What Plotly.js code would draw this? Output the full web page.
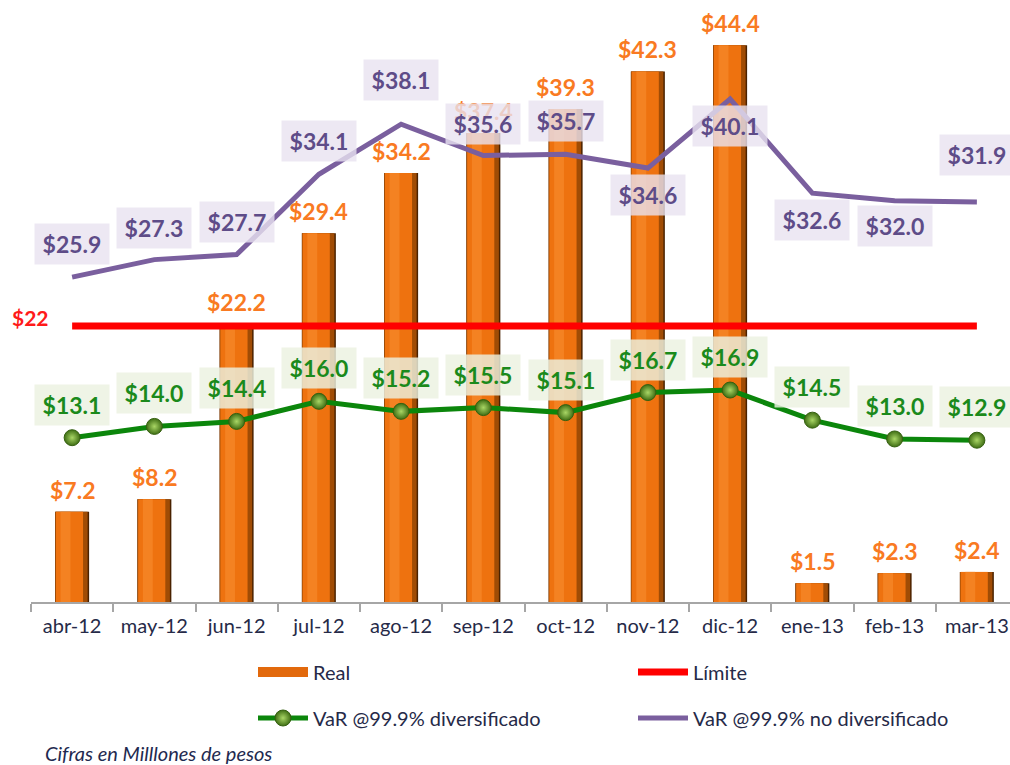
<!DOCTYPE html>
<html>
<head>
<meta charset="utf-8">
<script src="https://cdn.plot.ly/plotly-3.0.1.min.js"></script>
<style>
  html, body { margin: 0; padding: 0; overflow: hidden; background: #fff; }
  #chart { width: 1018px; height: 765px; }
</style>
</head>
<body>
<div id="chart"></div>
<script>
// ---- data ----
const months = ['abr-12','may-12','jun-12','jul-12','ago-12','sep-12','oct-12','nov-12','dic-12','ene-13','feb-13','mar-13'];
const real = [7.2, 8.2, 22.2, 29.4, 34.2, 37.4, 39.3, 42.3, 44.4, 1.5, 2.3, 2.4];
const limite = [22, 22, 22, 22, 22, 22, 22, 22, 22, 22, 22, 22];
const varDiv = [13.1, 14.0, 14.4, 16.0, 15.2, 15.5, 15.1, 16.7, 16.9, 14.5, 13.0, 12.9];
const varNoDiv = [25.9, 27.3, 27.7, 34.1, 38.1, 35.6, 35.7, 34.6, 40.1, 32.6, 32.0, 31.9];
const limiteLabel = 22;

// ---- label placement (styling, not data) ----
const purpleShift = [33, 32, 33, 33, 44, 32, 33, -27, -27, -27, -25, 47];

const fmt = v => '$' + v.toFixed(1);
const base = 'Lato, "Liberation Sans", sans-serif';

const traces = [
  { type: 'bar', x: months, y: real, width: 0.413, offset: -0.2065,
    marker: { color: '#4a2200' }, showlegend: false, hoverinfo: 'skip' },
  { type: 'bar', x: months, y: real, width: 0.395, offset: -0.2065,
    marker: { color: '#a04c05' }, showlegend: false, hoverinfo: 'skip' },
  { type: 'bar', x: months, y: real, width: 0.33, offset: -0.197,
    marker: { color: '#ee720f' }, showlegend: false, hoverinfo: 'skip' },
  { type: 'bar', x: months, y: real, width: 0.12, offset: -0.14,
    marker: { color: '#f48222' }, showlegend: false, hoverinfo: 'skip' },
  // legend swatch for the bars (no visible mark)
  { type: 'scatter', mode: 'lines', x: [null], y: [null], name: 'Real',
    line: { color: '#e2690c', width: 11 }, legend: 'legend', hoverinfo: 'skip' },
  { type: 'scatter', mode: 'lines', x: months, y: limite, name: 'Límite',
    line: { color: '#ff0000', width: 7 }, legend: 'legend2', hoverinfo: 'skip' },
  { type: 'scatter', mode: 'lines+markers', x: months, y: varDiv, name: 'VaR @99.9% diversificado',
    line: { color: '#0b860b', width: 5 },
    marker: { size: 16, color: '#3f6e14', gradient: { type: 'radial', color: '#a9d665' },
              line: { color: '#356010', width: 1 } },
    legend: 'legend3', hoverinfo: 'skip' },
  { type: 'scatter', mode: 'lines', x: months, y: varNoDiv, name: 'VaR @99.9% no diversificado',
    line: { color: '#7a5f9e', width: 5 }, legend: 'legend4', hoverinfo: 'skip' }
];

const annotations = [];
months.forEach((m, i) => {
  annotations.push({ x: m, y: real[i], xref: 'x', yref: 'y', text: fmt(real[i]),
    showarrow: false, yshift: 22, yanchor: 'middle',
    font: { family: base, size: 23, color: '#f97a22', weight: 'bold' } });
});
months.forEach((m, i) => {
  annotations.push({ x: m, y: varDiv[i], xref: 'x', yref: 'y', text: '<b>' + fmt(varDiv[i]) + '</b>',
    showarrow: false, yshift: 33, yanchor: 'middle', width: 72, height: 38,
    bgcolor: 'rgba(236,242,224,0.82)',
    font: { family: base, size: 23, color: '#1b8a1b' } });
});
months.forEach((m, i) => {
  annotations.push({ x: m, y: varNoDiv[i], xref: 'x', yref: 'y', text: '<b>' + fmt(varNoDiv[i]) + '</b>',
    showarrow: false, yshift: purpleShift[i], yanchor: 'middle', width: 72, height: 38,
    bgcolor: 'rgba(232,226,240,0.8)',
    font: { family: base, size: 23, color: '#5e4c88' } });
});
annotations.push({ x: -0.5, y: limiteLabel, xref: 'x', yref: 'y', text: '<b>$' + limiteLabel + '</b>',
  showarrow: false, yshift: 9, xshift: -1, yanchor: 'middle', xanchor: 'center',
  font: { family: base, size: 21, color: '#ff1a1a' } });
annotations.push({ x: 0.012, y: 1 - 753 / 602, xref: 'paper', yref: 'paper', xanchor: 'left', yanchor: 'middle',
  text: '<i>Cifras en Milllones de pesos</i>', showarrow: false,
  font: { family: base, size: 20, color: '#1f2a50' } });

const px2x = p => (p - 31) / 987;
const px2y = p => 1 - p / 602;
function leg(xp, yp) {
  return { orientation: 'v', x: px2x(xp), y: px2y(yp), xanchor: 'left', yanchor: 'middle',
    itemwidth: 50, font: { family: base, size: 20, color: '#262a48' }, bgcolor: 'rgba(0,0,0,0)' };
}

const layout = {
  width: 1018, height: 765,
  margin: { l: 31, r: 0, t: 0, b: 163 },
  paper_bgcolor: '#ffffff', plot_bgcolor: '#ffffff',
  barmode: 'overlay',
  font: { family: base, color: '#262a48' },
  xaxis: {
    type: 'category', range: [-0.5, 11.5], fixedrange: true,
    showline: true, linecolor: '#a6a6a6', linewidth: 2,
    ticks: 'outside', tickson: 'boundaries', ticklen: 8, tickwidth: 2, tickcolor: '#a6a6a6',
    tickfont: { family: base, size: 20, color: '#262a48' }, ticklabelstandoff: 5,
    showgrid: false, zeroline: false
  },
  yaxis: { range: [0, 48], visible: false, showgrid: false, zeroline: false, fixedrange: true },
  legend: leg(253, 672),
  legend2: leg(633, 672),
  legend3: leg(253, 718),
  legend4: leg(633, 718),
  annotations: annotations,
  showlegend: true
};

Plotly.newPlot('chart', traces, layout, { displayModeBar: false, staticPlot: true });
</script>
</body>
</html>
